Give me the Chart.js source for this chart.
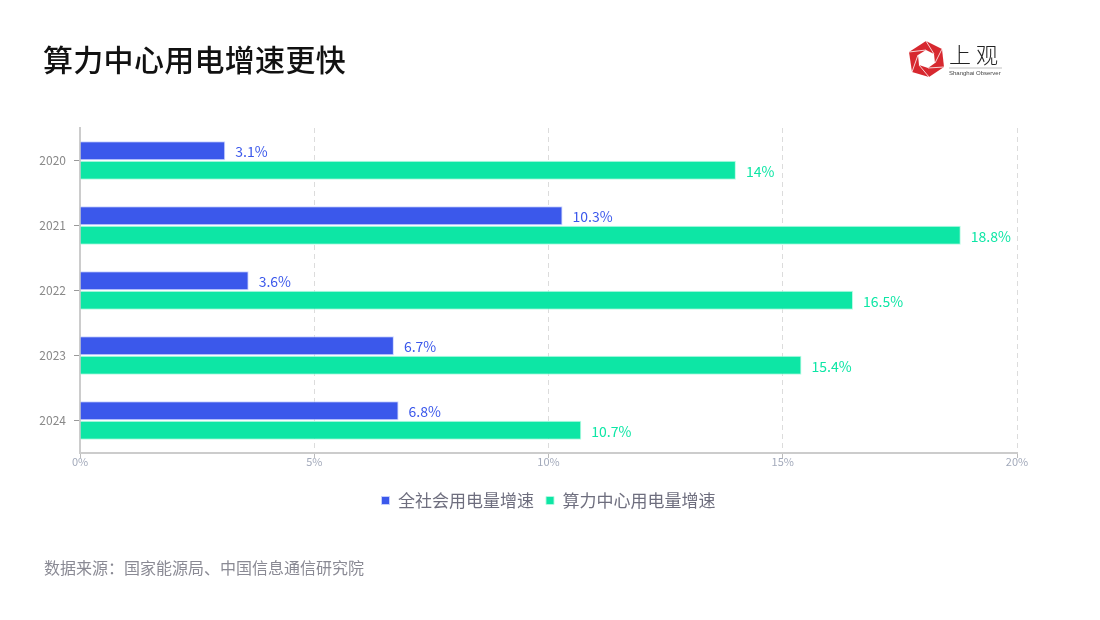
<!DOCTYPE html>
<html>
<head>
<meta charset="utf-8">
<script src="https://cdn.jsdelivr.net/npm/chart.js@4"></script>
<style>
html,body{margin:0;padding:0;background:#fff;}
body{width:1100px;height:620px;position:relative;overflow:hidden;font-family:"Noto Sans CJK SC","Noto Sans",sans-serif;}
#title{position:absolute;left:43px;top:36px;font-size:30px;font-weight:500;color:#111;letter-spacing:0.3px;}
#source{position:absolute;left:44px;top:555px;font-size:16px;color:#8a8a94;}
#logo{position:absolute;left:907px;top:40px;width:110px;height:40px;}
#wrap{position:absolute;left:0;top:0;width:1100px;height:620px;}
</style>
</head>
<body>
<div id="wrap"><canvas id="c"></canvas></div>
<div id="title">算力中心用电增速更快</div>
<div id="source">数据来源：国家能源局、中国信息通信研究院</div>
<svg id="logo" viewBox="0 0 110 40" xmlns="http://www.w3.org/2000/svg">
  <polygon points="19,1 35,9 37,27 22,37 5,32 2,12" fill="#d7282f"/>
  <polygon points="19,10 27,14 28,23 21,28 12,25 11,15" fill="#fff"/>
  <line x1="19" y1="1" x2="27" y2="14" stroke="#fff" stroke-width="0.8"/>
  <line x1="35" y1="9" x2="28" y2="23" stroke="#fff" stroke-width="0.8"/>
  <line x1="37" y1="27" x2="21" y2="28" stroke="#fff" stroke-width="0.8"/>
  <line x1="22" y1="37" x2="12" y2="25" stroke="#fff" stroke-width="0.8"/>
  <line x1="5" y1="32" x2="11" y2="15" stroke="#fff" stroke-width="0.8"/>
  <line x1="2" y1="12" x2="19" y2="10" stroke="#fff" stroke-width="0.8"/>
  <text x="42" y="23" font-size="22" fill="#222" font-family="Noto Sans CJK SC" font-weight="300" letter-spacing="5">上观</text>
  <line x1="42" y1="28" x2="95" y2="28" stroke="#999" stroke-width="0.6"/>
  <text x="42" y="35" font-size="6" fill="#444" font-family="Liberation Sans">Shanghai Observer</text>
</svg>
<script>
const categories = ["2020","2021","2022","2023","2024"];
const seriesNames = ["全社会用电量增速","算力中心用电量增速"];
const societyGrowth = [3.1, 10.3, 3.6, 6.7, 6.8];
const computeGrowth = [14, 18.8, 16.5, 15.4, 10.7];
const xTicks = [0, 5, 10, 15, 20];

const BLUE = "#3b58eb";
const GREEN = "#0de6a5";
const FONT = '"Noto Sans CJK SC","Noto Sans",sans-serif';

const valueLabels = {
  id: "valueLabels",
  afterDatasetsDraw(chart) {
    const ctx = chart.ctx;
    ctx.save();
    ctx.font = "14px " + FONT;
    ctx.textBaseline = "middle";
    ctx.textAlign = "left";
    chart.data.datasets.forEach((ds, i) => {
      const meta = chart.getDatasetMeta(i);
      meta.data.forEach((bar, j) => {
        ctx.fillStyle = ds.backgroundColor;
        ctx.fillText(ds.data[j] + "%", bar.x + 10, bar.y + 1);
      });
    });
    ctx.restore();
  }
};

new Chart(document.getElementById("c"), {
  type: "bar",
  data: {
    labels: categories,
    datasets: [
      { label: seriesNames[0], data: societyGrowth, backgroundColor: BLUE, borderColor: "rgba(200,210,255,0.9)", borderWidth: 1 },
      { label: seriesNames[1], data: computeGrowth, backgroundColor: GREEN, borderColor: "rgba(180,250,225,0.9)", borderWidth: 1 }
    ]
  },
  options: {
    indexAxis: "y",
    responsive: true,
    maintainAspectRatio: false,
    animation: false,
    layout: { padding: { top: 128, left: 0, right: 83, bottom: 101 } },
    datasets: { bar: { categoryPercentage: 0.6, barPercentage: 0.98 } },
    scales: {
      x: {
        min: 0, max: 20,
        afterBuildTicks(scale) { scale.ticks = xTicks.map(v => ({ value: v })); },
        afterFit(scale) { scale.height = 27; },
        ticks: { callback: v => v + "%", color: "#a3aabb", font: { size: 11, family: FONT }, padding: -3 },
        grid: { color: "#dcdcdc", lineWidth: 1, tickLength: 5, tickColor: "#bbb", drawTicks: true },
        border: { display: true, color: "#cccccc", width: 2, dash: [5, 4] }
      },
      y: {
        afterFit(scale) { scale.width = 80; },
        ticks: { color: "#888", font: { size: 12, family: FONT }, padding: 8 },
        grid: { offset: false, drawOnChartArea: false, drawTicks: true, tickLength: 6, tickColor: "#999" },
        border: { display: true, color: "#cccccc", width: 2 }
      }
    },
    plugins: {
      legend: {
        position: "bottom",
        fullSize: false,
        labels: {
          boxWidth: 8, boxHeight: 8, padding: 12,
          color: "#6e6e7e",
          font: { size: 17, family: FONT }
        }
      },
      tooltip: { enabled: false },
      title: { display: false }
    }
  },
  plugins: [valueLabels]
});
</script>
</body>
</html>
